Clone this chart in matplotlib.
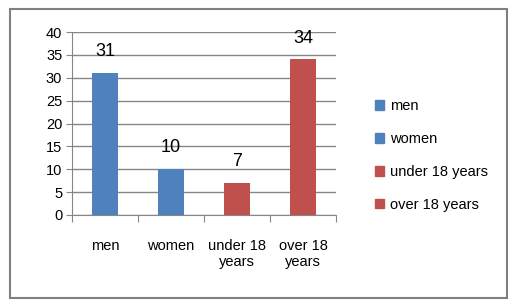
import numpy as np
import matplotlib.pyplot as plt
from matplotlib.patches import Patch, Rectangle

categories = ["men", "women", "under 18 years", "over 18 years"]
tick_labels = ["men", "women", "under 18\nyears", "over 18\nyears"]
values = [31, 10, 7, 34]

BLUE = "#4F81BD"
RED = "#C0504D"
GRID = "#868686"
bar_colors = [BLUE, BLUE, RED, RED]

plt.rcParams['font.family'] = ['Liberation Sans', 'DejaVu Sans']

fig = plt.figure(figsize=(5.15, 3.07), dpi=100)
fig.patches.append(Rectangle((10 / 515, 1 - 298 / 307), 497 / 515, 289 / 307,
                             transform=fig.transFigure, fill=False,
                             edgecolor="#808080", linewidth=1.5))

ax = fig.add_axes([72 / 515, 92 / 307, 264 / 515, 183 / 307])
x = np.arange(len(values))
bars = ax.bar(x, values, width=0.39, color=bar_colors, zorder=3)

for xi, v in zip(x, values):
    ax.text(xi, v + 2.8, str(v), ha="center", va="bottom", fontsize=13)

ax.set_xlim(-0.5, len(values) - 0.5)
ax.set_ylim(0, 40)
ax.set_yticks(np.arange(0, 41, 5))
ax.yaxis.grid(True, color=GRID, linewidth=1, zorder=0)
ax.tick_params(axis="y", length=4, color=GRID, labelsize=10.5, pad=3)

ax.set_xticks(np.arange(-0.5, len(values)), labels=[""] * (len(values) + 1))
ax.set_xticks(x, labels=tick_labels, minor=True)
ax.tick_params(axis="x", which="major", length=5, color=GRID, direction="out")
ax.tick_params(axis="x", which="minor", length=0, labelsize=10.5, pad=17)

for s in ["top", "right"]:
    ax.spines[s].set_visible(False)
for s in ["left", "bottom"]:
    ax.spines[s].set_color(GRID)

handles = [Patch(color=c) for c in bar_colors]
fig.legend(handles, categories, loc="upper left",
           bbox_to_anchor=(362 / 515, 1 - 86 / 307), frameon=False,
           fontsize=10.5, handlelength=0.6, handleheight=0.6,
           handletextpad=0.4, labelspacing=1.3)

fig.savefig("out.png", dpi=100)
